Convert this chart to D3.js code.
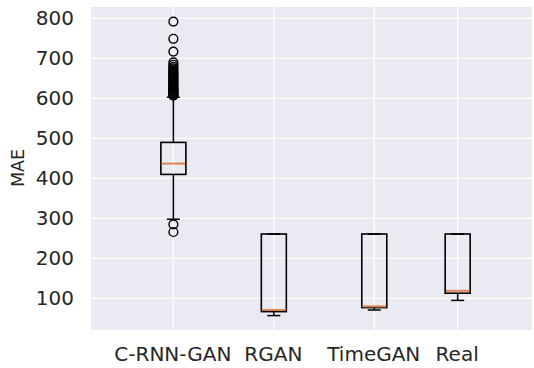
<!DOCTYPE html>
<html>
<head>
<meta charset="utf-8">
<script src="https://cdn.jsdelivr.net/npm/d3@7"></script>
<style>
  body { margin: 0; background: #fff; }
  text { font-family: "DejaVu Sans", sans-serif; fill: #262626; }
</style>
</head>
<body>
<svg width="534" height="368"></svg>
<script>
// box stats
var groups = ['C-RNN-GAN', 'RGAN', 'TimeGAN', 'Real'];
var positions = [1, 2, 3, 3.83];
var whiskLo = [298, 57, 71, 95];
var q1 = [410, 67, 77, 113];
var median = [437, 71, 80, 119];
var q3 = [490, 261, 261, 261];
var whiskHi = [603, 261, 261, 261];
var fliers = [
  [266, 285, 607, 609, 611, 613, 615, 617, 620, 622, 624, 626, 628, 631, 634, 637, 640, 643,
   646, 649, 652, 655, 658, 661, 664, 667, 671, 675, 679, 684, 690, 717, 749, 792],
  [],
  [],
  []
];
var yTicks = [100, 200, 300, 400, 500, 600, 700, 800];

var svg = d3.select('svg');
// plot box (don't call it "top", that's window.top)
var plotL = 91, plotR = 532, plotT = 7, plotB = 330;

var x = d3.scaleLinear().domain([0.18, 4.57]).range([plotL, plotR]);
var y = d3.scaleLinear().domain([21, 828.5]).range([plotB, plotT]);

svg.append('rect')
  .attr('x', plotL).attr('y', plotT)
  .attr('width', plotR - plotL).attr('height', plotB - plotT)
  .attr('fill', '#eaeaf2');

// grid
svg.append('g').selectAll('line')
  .data(yTicks).enter().append('line')
  .attr('x1', plotL).attr('x2', plotR)
  .attr('y1', function(d) { return y(d); })
  .attr('y2', function(d) { return y(d); })
  .attr('stroke', '#fff').attr('stroke-width', 1.3);

svg.append('g').selectAll('line')
  .data(positions).enter().append('line')
  .attr('y1', plotT).attr('y2', plotB)
  .attr('x1', function(d) { return x(d); })
  .attr('x2', function(d) { return x(d); })
  .attr('stroke', '#fff').attr('stroke-width', 1.3);

// y axis
var yAxis = svg.append('g')
  .attr('transform', 'translate(' + plotL + ',0)')
  .call(d3.axisLeft(y).tickValues(yTicks).tickSize(0).tickPadding(17));
yAxis.select('.domain').remove();
yAxis.selectAll('text').style('font-size', '20px').attr('fill', '#262626');

// x axis
var xAxis = svg.append('g')
  .attr('transform', 'translate(-1,' + plotB + ')')
  .call(d3.axisBottom(x).tickValues(positions)
    .tickFormat(function(d, i) { return groups[i]; })
    .tickSize(0).tickPadding(17));
xAxis.select('.domain').remove();
xAxis.selectAll('text').style('font-size', '20px').attr('fill', '#262626');

svg.append('text')
  .attr('transform', 'translate(24,168) rotate(-90)')
  .attr('text-anchor', 'middle')
  .style('font-size', '17.5px')
  .text('MAE');

var boxW = 25, capW = 13;
var idx = d3.range(groups.length);

var boxes = svg.append('g').selectAll('g')
  .data(idx).enter().append('g');

// whiskers
boxes.append('line')
  .attr('x1', function(i) { return x(positions[i]); })
  .attr('x2', function(i) { return x(positions[i]); })
  .attr('y1', function(i) { return y(q3[i]); })
  .attr('y2', function(i) { return y(whiskHi[i]); })
  .attr('stroke', '#000').attr('stroke-width', 1.5);
boxes.append('line')
  .attr('x1', function(i) { return x(positions[i]); })
  .attr('x2', function(i) { return x(positions[i]); })
  .attr('y1', function(i) { return y(q1[i]); })
  .attr('y2', function(i) { return y(whiskLo[i]); })
  .attr('stroke', '#000').attr('stroke-width', 1.5);

// caps
[whiskLo, whiskHi].forEach(function(arr) {
  boxes.append('line')
    .attr('x1', function(i) { return x(positions[i]) - capW / 2; })
    .attr('x2', function(i) { return x(positions[i]) + capW / 2; })
    .attr('y1', function(i) { return y(arr[i]); })
    .attr('y2', function(i) { return y(arr[i]); })
    .attr('stroke', '#000').attr('stroke-width', 1.5);
});

boxes.append('rect')
  .attr('x', function(i) { return x(positions[i]) - boxW / 2; })
  .attr('y', function(i) { return y(q3[i]); })
  .attr('width', boxW)
  .attr('height', function(i) { return y(q1[i]) - y(q3[i]); })
  .attr('fill', 'none')
  .attr('stroke', '#000').attr('stroke-width', 1.6);

boxes.append('line')
  .attr('x1', function(i) { return x(positions[i]) - boxW / 2 + 0.8; })
  .attr('x2', function(i) { return x(positions[i]) + boxW / 2 - 0.8; })
  .attr('y1', function(i) { return y(median[i]); })
  .attr('y2', function(i) { return y(median[i]); })
  .attr('stroke', '#dd8452').attr('stroke-width', 2);

// outliers
boxes.selectAll('circle')
  .data(function(i) { return fliers[i].map(function(v) { return [positions[i], v]; }); })
  .enter().append('circle')
  .attr('cx', function(d) { return x(d[0]); })
  .attr('cy', function(d) { return y(d[1]); })
  .attr('r', 4.4)
  .attr('fill', 'none')
  .attr('stroke', '#000').attr('stroke-width', 1.4);
</script>
</body>
</html>
